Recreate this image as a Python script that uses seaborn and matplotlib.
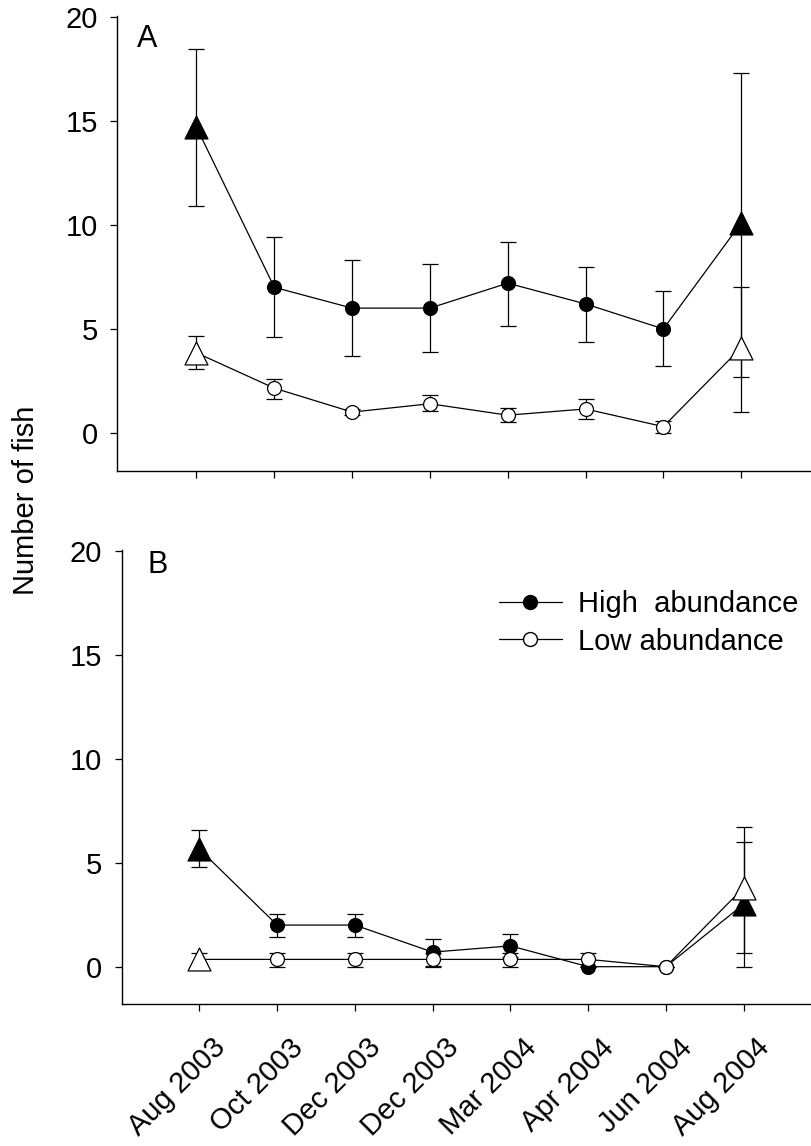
import numpy as np
import pandas as pd
import seaborn as sns
import matplotlib
matplotlib.use("Agg")
import matplotlib.pyplot as plt
from matplotlib.lines import Line2D
from matplotlib.transforms import ScaledTranslation

# ---------------- data ----------------
dates = ["Aug 2003", "Oct 2003", "Dec 2003", "Dec 2003", "Mar 2004",
         "Apr 2004", "Jun 2004", "Aug 2004"]

# Panel A
a_high_mean = [14.7, 7.0, 6.0, 6.0, 7.2, 6.2, 5.0, 10.1]
a_high_up   = [18.45, 9.4, 8.3, 8.1, 9.2, 8.0, 6.8, 17.3]
a_high_lo   = [10.9, 4.6, 3.7, 3.9, 5.15, 4.35, 3.2, 2.7]
a_low_mean  = [3.85, 2.15, 1.0, 1.4, 0.85, 1.15, 0.3, 4.1]
a_low_up    = [4.65, 2.6, 1.15, 1.8, 1.2, 1.65, 0.55, 7.0]
a_low_lo    = [3.05, 1.65, 0.85, 1.05, 0.5, 0.65, 0.0, 1.0]

# Panel B
b_high_mean = [5.65, 2.0, 2.0, 0.7, 1.0, 0.0, 0.0, 3.0]
b_high_up   = [6.55, 2.55, 2.55, 1.35, 1.55, 0.0, 0.0, 6.0]
b_high_lo   = [4.8, 1.45, 1.45, 0.05, 0.45, 0.0, 0.0, 0.0]
b_low_mean  = [0.35, 0.35, 0.35, 0.35, 0.35, 0.35, 0.0, 3.8]
b_low_up    = [0.65, 0.65, 0.65, 0.65, 0.65, 0.65, 0.0, 6.7]
b_low_lo    = [0.0, 0.0, 0.0, 0.0, 0.0, 0.0, 0.0, 0.65]

yticks = [0, 5, 10, 15, 20]
series_labels = ["High  abundance", "Low abundance"]

# ---------------- style ----------------
sns.set_style("ticks", rc={"text.color": "black", "axes.labelcolor": "black",
                           "xtick.color": "black", "ytick.color": "black",
                           "axes.edgecolor": "black"})
plt.rcParams["font.family"] = ["Liberation Sans", "DejaVu Sans"]
plt.rcParams["axes.linewidth"] = 1.0

W, H = 812, 1146
fig = plt.figure(figsize=(W / 100, H / 100), dpi=100)

def px_axes(left, top, right, bottom):
    return fig.add_axes([left / W, 1 - bottom / H, (right - left) / W, (bottom - top) / H])

axA = px_axes(117.5, 16, 812, 470.7)
axB = px_axes(121.7, 550, 812, 1003.5)

pos = np.arange(len(dates))
LW = 0.9
MS_C = 10
MS_T = 16.5


def draw_series(ax, mean, up, lo, fill):
    mean = np.asarray(mean, float)
    up = np.asarray(up, float)
    lo = np.asarray(lo, float)
    df = pd.DataFrame({"x": pos, "y": mean})
    sns.lineplot(data=df, x="x", y="y", color="black", linewidth=LW,
                 sort=False, ax=ax, zorder=2)
    ax.errorbar(pos, mean, yerr=[mean - lo, up - mean], fmt="none",
                ecolor="black", elinewidth=LW, capsize=5.8, capthick=LW, zorder=2)
    mid = df.iloc[1:-1]
    ends = df.iloc[[0, -1]]
    sns.scatterplot(data=mid, x="x", y="y", marker="o", s=MS_C ** 2,
                    color=fill, edgecolor="black", linewidth=LW, ax=ax, zorder=3)
    sns.scatterplot(data=ends, x="x", y="y", marker="^", s=MS_T ** 2,
                    color=fill, edgecolor="black", linewidth=LW, ax=ax, zorder=3)


draw_series(axA, a_high_mean, a_high_up, a_high_lo, "black")
draw_series(axA, a_low_mean, a_low_up, a_low_lo, "white")
draw_series(axB, b_high_mean, b_high_up, b_high_lo, "black")
draw_series(axB, b_low_mean, b_low_up, b_low_lo, "white")

for ax, xl, yl in [(axA, (-1.015, 7.91), (-1.82, 20.05)),
                   (axB, (-1.0, 7.88), (-1.77, 20.03))]:
    ax.set_xlim(*xl)
    ax.set_ylim(*yl)
    ax.set_yticks(yticks)
    ax.set_yticklabels([str(t) for t in yticks])
    ax.set_xticks(pos)
    ax.set_xlabel("")
    ax.set_ylabel("")
    sns.despine(ax=ax)
    ax.tick_params(axis="both", direction="out", length=5, width=0.9,
                   labelsize=21, color="black", labelcolor="black")
    ax.tick_params(axis="y", pad=9)

axA.set_xticklabels([])
labs = axB.set_xticklabels(dates, rotation=45, ha="right", va="center",
                           rotation_mode="anchor", fontsize=21)
off = ScaledTranslation(22 / 100, -28 / 100, fig.dpi_scale_trans)
for t in labs:
    t.set_transform(t.get_transform() + off)

# panel letters
fig.text(137 / W, 1 - 46.7 / H, "A", fontsize=22, ha="left", va="baseline")
fig.text(148 / W, 1 - 573 / H, "B", fontsize=22, ha="left", va="baseline")

# y label
fig.text(26 / W, 1 - 500 / H, "Number of fish", rotation=90, fontsize=21,
         ha="center", va="center")

# legend
handles = [
    Line2D([], [], color="black", lw=LW, marker="o", markersize=MS_C,
           markerfacecolor="black", markeredgecolor="black"),
    Line2D([], [], color="black", lw=LW, marker="o", markersize=MS_C,
           markerfacecolor="white", markeredgecolor="black"),
]
axB.legend(handles, series_labels, loc="upper left",
           bbox_to_anchor=(499 / W, 1 - 590 / H), bbox_transform=fig.transFigure,
           frameon=False, fontsize=21, handlelength=2.15, handletextpad=0.55,
           labelspacing=0.33, borderpad=0, borderaxespad=0)

fig.savefig("out.png", dpi=100)
